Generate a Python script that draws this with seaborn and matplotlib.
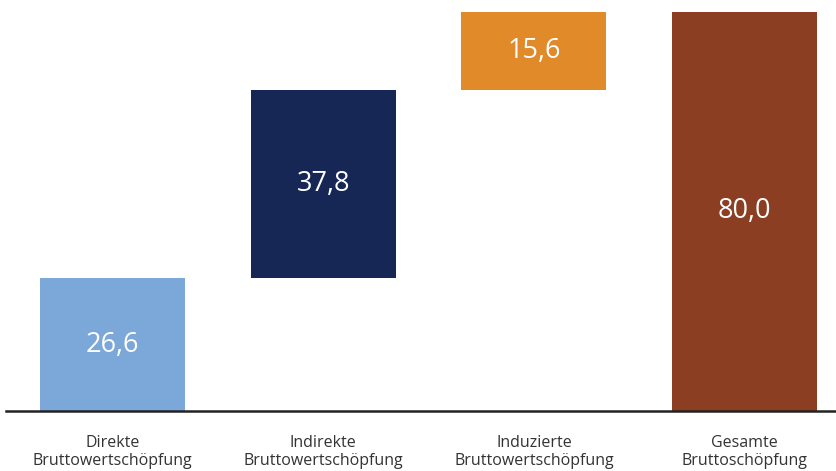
import matplotlib
matplotlib.use("Agg")
import matplotlib.pyplot as plt
import seaborn as sns

categories = ["Direkte\nBruttowertschöpfung", "Indirekte\nBruttowertschöpfung",
              "Induzierte\nBruttowertschöpfung", "Gesamte\nBruttoschöpfung"]
values = [26.6, 37.8, 15.6, 80.0]
bottoms = [0.0, 26.6, 64.4, 0.0]
labels = ["26,6", "37,8", "15,6", "80,0"]
colors = ["#7BA7D9", "#172755", "#E08A2A", "#8B3E22"]

sns.set_theme(style="white")
plt.rcParams["font.family"] = ["Open Sans", "DejaVu Sans"]

fig = plt.figure(figsize=(8.37, 4.71), dpi=100)
ax = fig.add_axes([6 / 837, 60 / 471, 831 / 837, 399 / 471])

# one call per bar so each gets its own floating bottom
for cat, v, b, c in zip(categories, values, bottoms, colors):
    sns.barplot(x=[cat], y=[v], order=categories, color=c, bottom=b,
                width=0.688, saturation=1, linewidth=0, ax=ax)

for i, (v, b, t) in enumerate(zip(values, bottoms, labels)):
    ax.text(i, b + v / 2, t, ha="center", va="center", color="white", fontsize=19.5)

ax.set_ylim(0, 80)
ax.set_xlim(-0.505, 3.438)
ax.set_xlabel("")
ax.set_ylabel("")
ax.set_yticks([])
ax.tick_params(axis="x", length=0, pad=17, labelsize=11.5, colors="#333333")
for s in ["top", "right", "left"]:
    ax.spines[s].set_visible(False)
ax.spines["bottom"].set_color("#222222")
ax.spines["bottom"].set_linewidth(1.8)

fig.savefig("out.png", dpi=100)
